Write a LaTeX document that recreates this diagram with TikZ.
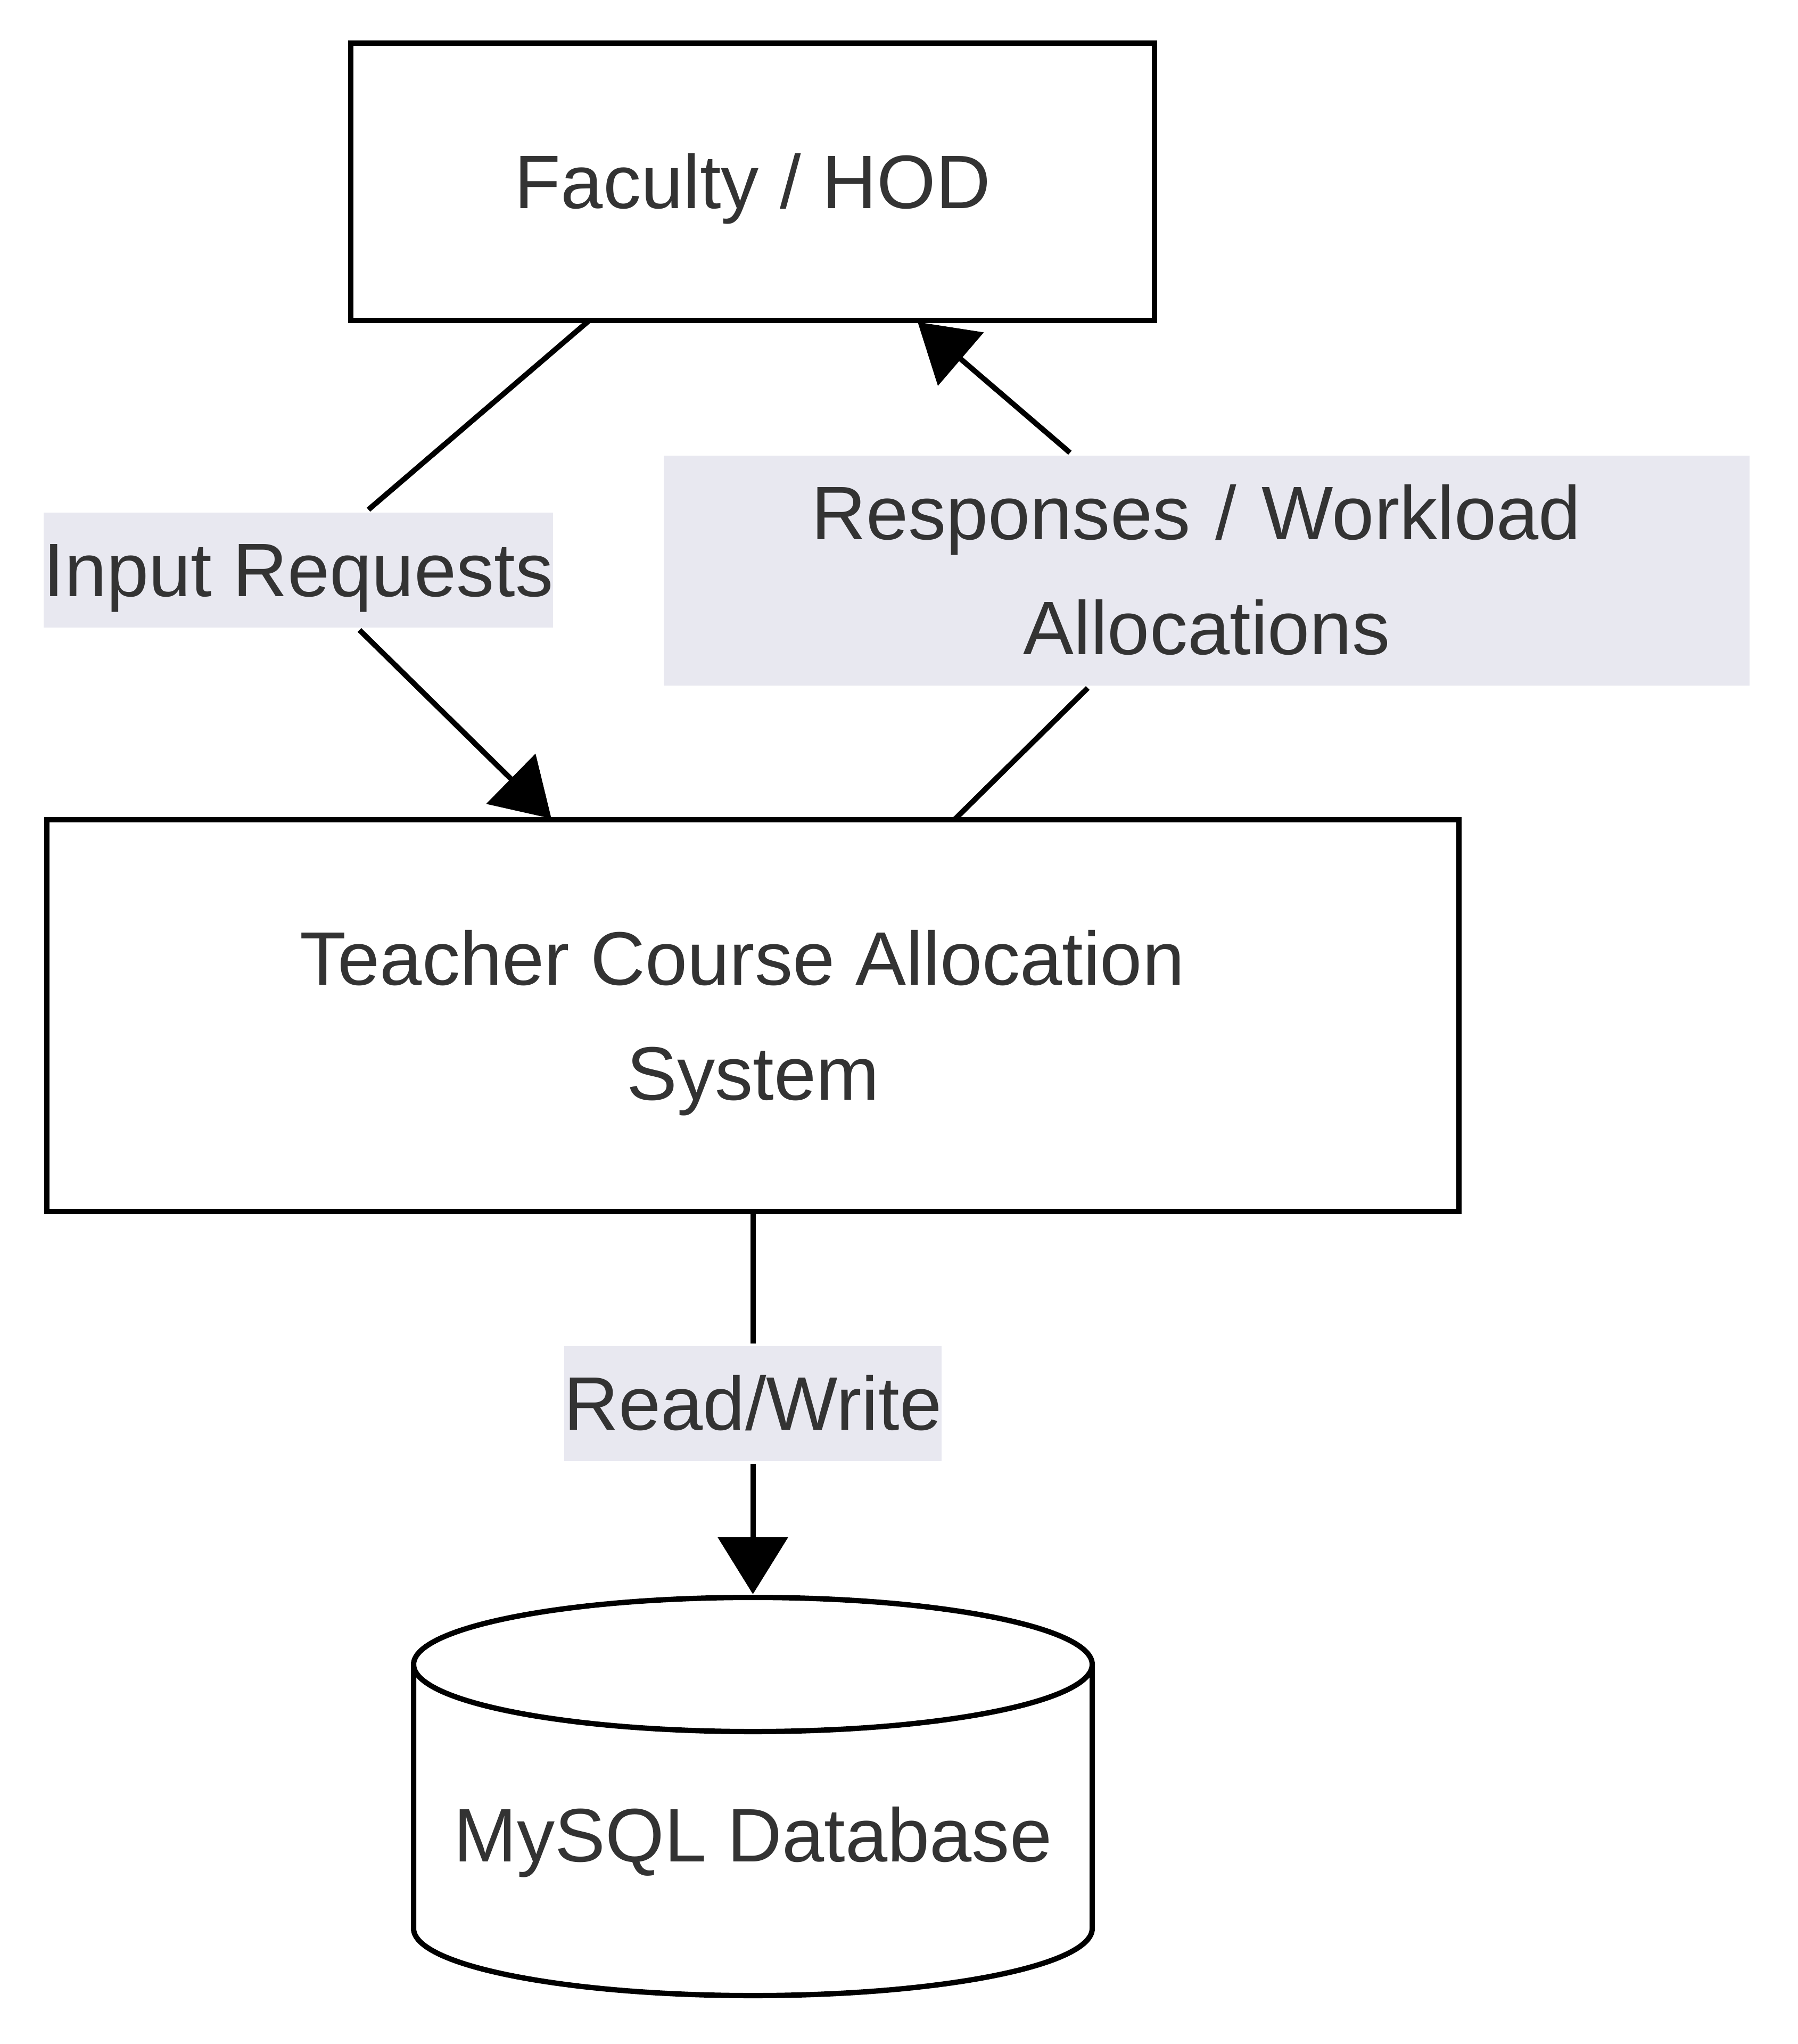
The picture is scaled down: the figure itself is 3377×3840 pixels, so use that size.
\documentclass[tikz,border=0pt]{standalone}
\usepackage{fontspec}
\setmainfont{Liberation Sans}
\usetikzlibrary{arrows.meta}
\definecolor{txtgray}{HTML}{333333}
\definecolor{lblfill}{RGB}{232,232,240}
\newcommand{\ls}{\rule[-14.5pt]{0pt}{54pt}}
\newcommand{\tsp}{\kern0.28em}

\begin{document}
\begin{tikzpicture}[
  x=0.25pt, y=-0.25pt,
  line width=2.5pt,
  every node/.style = {font=\fontsize{35.6}{54}\selectfont, text=txtgray, inner sep=0pt, align=center},
  box/.style = {draw=black, fill=white},
  lbl/.style = {fill=lblfill},
  arr/.style = {-{Triangle[length=26.75pt, width=32.5pt]}}
]
  \useasboundingbox (0,0) rectangle (3377,3840);

  \node[box, minimum width=377.5pt, minimum height=130.25pt] (fac) at (1414,341.5) {\ls Faculty / HOD};
  \node[box, minimum width=663.25pt, minimum height=184pt] (tcas) at (1414.5,1908) {\ls Teacher Course Allocation\tsp\\\ls System};

  % database cylinder
  \draw[fill=white] (777,3127) -- (777,3623)
    arc[start angle=180, end angle=360, x radius=159.375pt, y radius=31.5pt] -- (2052,3127);
  \draw (1414.5,3127) ellipse [x radius=159.375pt, y radius=31.5pt];
  \node (db) at (1414.5,3447) {\ls MySQL Database};

  \coordinate (f1) at (1107,602);
  \coordinate (f2) at (1724,605);
  \coordinate (t1) at (1036,1538);
  \coordinate (t2) at (1793,1540);
  \coordinate (dbtop) at (1414.5,2995);

  \node[lbl] (lin) at (560.5,1070.5) {\ls Input Requests};
  \node[lbl, text width=510pt] (lresp) at (2267,1071.5) {\ls Responses / Workload\tsp\\\ls Allocations};
  \node[lbl] (lrw) at (1414.5,2636.5) {\ls Read/Write};

  \draw (f1) -- (lin);
  \draw[arr] (lin) -- (t1);
  \draw (t2) -- (lresp);
  \draw[arr] (lresp) -- (f2);
  \draw (tcas) -- (lrw);
  \draw[arr] (lrw) -- (dbtop);
\end{tikzpicture}
\end{document}
